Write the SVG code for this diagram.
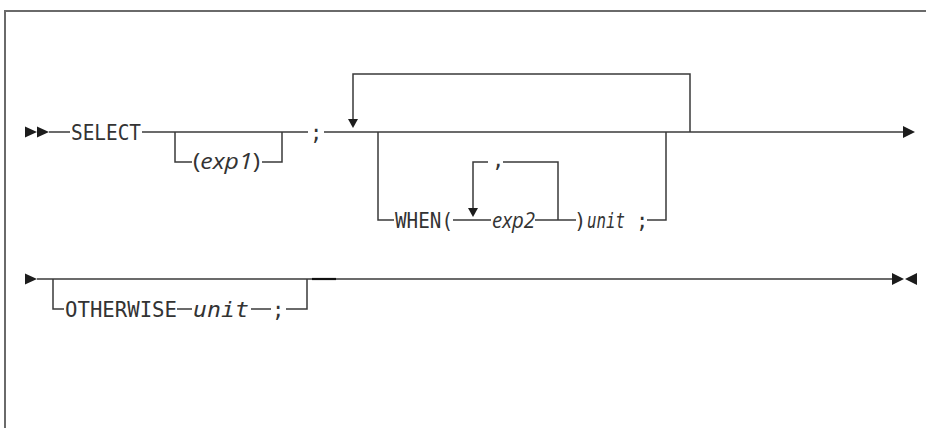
<svg xmlns="http://www.w3.org/2000/svg" width="926" height="428" viewBox="0 0 926 428">
<style>
.frame{stroke:#6a6a6a;stroke-width:2;fill:none}
.ln{stroke:#3a3a3a;stroke-width:1.5;fill:none}
.thick{stroke:#111;stroke-width:2.2;fill:none}
.ah{fill:#1c1c1c}
.kw{font-family:"DejaVu Sans Mono","Liberation Mono",monospace;font-size:20.5px;fill:#333}
.var{font-family:"Open Sans","DejaVu Sans",sans-serif;font-size:22px;font-style:italic;fill:#333}
.par{font-family:"Open Sans","DejaVu Sans",sans-serif;font-size:22px;fill:#333}
.mvar{font-family:"DejaVu Sans Mono","Liberation Mono",monospace;font-size:20.5px;font-style:italic;fill:#333}
</style>
<rect width="926" height="428" fill="#fff"/>
<path class="frame" d="M5,428 V11 H926"/>
<g id="connectors">
<polygon class="ah" points="25,126.5 25,137.5 37,132"/>
<polygon class="ah" points="37,126.5 37,137.5 49,132"/>
<path class="ln" d="M49,132 H70"/>
<path class="ln" d="M142,132 H308"/>
<path class="ln" d="M175,132 V162 H192"/>
<path class="ln" d="M262,162 H282 V132"/>
<path class="ln" d="M324,132 H903"/>
<polygon class="ah" points="903,126 903,138 915,132"/>
<path class="ln" d="M690,132 V74 H353 V120"/>
<polygon class="ah" points="348,119 358,119 353,128"/>
<path class="ln" d="M378,132 V220 H394"/>
<path class="ln" d="M453,220 H491"/>
<path class="ln" d="M558,220 V162 H503"/>
<path class="ln" d="M488,162 H473 V209"/>
<polygon class="ah" points="468,208 478,208 473,217"/>
<path class="ln" d="M535,220 H576"/>
<path class="ln" d="M647,220 H666 V132"/>
<polygon class="ah" points="25,273.5 25,284.5 37,279"/>
<path class="ln" d="M37,279 H312"/>
<path class="thick" d="M312,279 H336"/>
<path class="ln" d="M336,279 H892"/>
<polygon class="ah" points="892,273 892,285 904,279"/>
<polygon class="ah" points="917,273 917,285 905,279"/>
<path class="ln" d="M53,279 V309 H64"/>
<path class="ln" d="M177,309 H192"/>
<path class="ln" d="M251,309 H271"/>
<path class="ln" d="M286,309 H307 V279"/>
</g>
<g id="select"><text class="kw" x="71" y="139.5" textLength="70" lengthAdjust="spacingAndGlyphs">SELECT</text></g>
<g id="exp1"><text class="par" x="193" y="169" textLength="67" lengthAdjust="spacingAndGlyphs">(<tspan class="var">exp1</tspan>)</text></g>
<g id="semi1"><text class="kw" x="310" y="139.5">;</text></g>
<g id="when"><text class="kw" x="395" y="227.5" textLength="58" lengthAdjust="spacingAndGlyphs">WHEN(</text></g>
<g id="comma"><text class="kw" x="492" y="167">,</text></g>
<g id="exp2"><text class="var" x="492" y="228" textLength="43" lengthAdjust="spacingAndGlyphs">exp2</text></g>
<g id="close-unit"><text class="kw" x="574" y="227.5">)</text><text class="mvar" x="587" y="227.5" textLength="38" lengthAdjust="spacingAndGlyphs">unit</text><text class="kw" x="636" y="227.5">;</text></g>
<g id="otherwise"><text class="kw" x="65" y="316.5" textLength="112" lengthAdjust="spacingAndGlyphs">OTHERWISE</text></g>
<g id="unit2"><text class="mvar" x="193" y="316.5" textLength="56" lengthAdjust="spacingAndGlyphs">unit</text></g>
<g id="semi2"><text class="kw" x="272" y="316.5">;</text></g>
</svg>
